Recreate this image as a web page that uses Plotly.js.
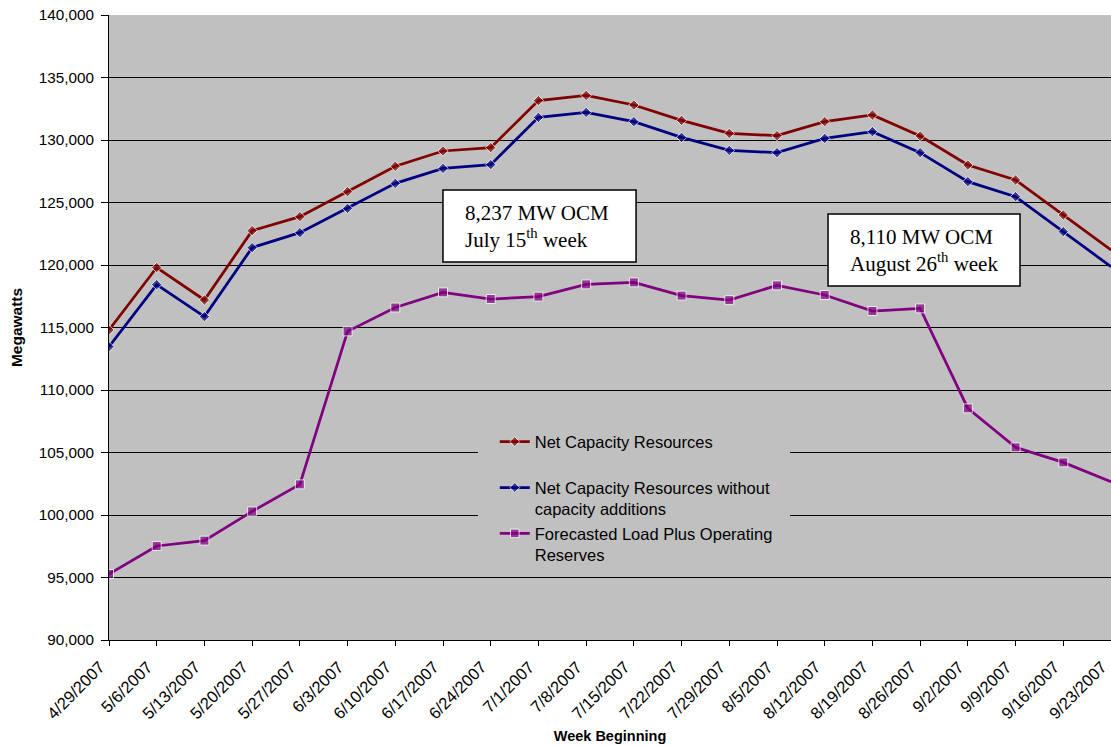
<!DOCTYPE html>
<html>
<head>
<meta charset="utf-8">
<script src="https://cdn.plot.ly/plotly-3.0.1.min.js"></script>
<style>
  html, body { margin: 0; padding: 0; background: #ffffff; }
  #chart { width: 1111px; height: 746px; }
</style>
</head>
<body>
<div id="chart"></div>
<script>
// Weekly resource adequacy outlook, summer 2007 (MW)
const weeks = [
  '4/29/2007', '5/6/2007', '5/13/2007', '5/20/2007', '5/27/2007', '6/3/2007',
  '6/10/2007', '6/17/2007', '6/24/2007', '7/1/2007', '7/8/2007', '7/15/2007',
  '7/22/2007', '7/29/2007', '8/5/2007', '8/12/2007', '8/19/2007', '8/26/2007',
  '9/2/2007', '9/9/2007', '9/16/2007', '9/23/2007'
];

const netCapacity = [
  114800, 119800, 117200, 122750, 123870, 125870,
  127900, 129120, 129390, 133150, 133570, 132800,
  131570, 130530, 130350, 131470, 132000, 130320,
  128000, 126800, 124000, 121200
];

const netCapacityNoAdditions = [
  113470, 118430, 115870, 121390, 122590, 124530,
  126530, 127730, 128030, 131810, 132210, 131470,
  130210, 129170, 128990, 130130, 130670, 128990,
  126670, 125470, 122670, 119870
];

const loadPlusReserves = [
  95280, 97520, 97950, 100290, 102450, 114690,
  116600, 117810, 117280, 117470, 118450, 118610,
  117550, 117190, 118370, 117600, 116320, 116530,
  108530, 105410, 104210, 102670
];

const seriesNames = [
  'Net Capacity Resources<br>\u00a0',
  'Net Capacity Resources without<br>capacity additions',
  'Forecasted Load Plus Operating<br>Reserves'
];

const callouts = [
  '8,237 MW OCM<br>July 15<sup>th</sup> week',
  '8,110 MW OCM<br>August 26<sup>th</sup> week'
];

const axisFont = { family: 'Liberation Sans, Arial, sans-serif', color: '#000000' };

// the final week sits on the plot's right edge, where its marker is cut away
function markerSizes(size) {
  return weeks.map((w, i) => (i === weeks.length - 1 ? 0 : size));
}

function lineTrace(name, values, color, symbol, size) {
  return {
    type: 'scatter',
    mode: 'lines+markers',
    name: name,
    x: weeks,
    y: values,
    line: { color: color, width: 2.75 },
    marker: { color: color, symbol: symbol, size: markerSizes(size) },
    cliponaxis: true,
    hoverinfo: 'x+y'
  };
}

const traces = [
  lineTrace(seriesNames[0], netCapacity, '#800000', 'diamond', 8),
  lineTrace(seriesNames[1], netCapacityNoAdditions, '#000080', 'diamond', 8),
  lineTrace(seriesNames[2], loadPlusReserves, '#800080', 'square', 9)
];

const layout = {
  width: 1111,
  height: 746,
  margin: { l: 109, r: 0, t: 15, b: 106, pad: 0 },
  paper_bgcolor: '#ffffff',
  plot_bgcolor: '#C0C0C0',
  showlegend: true,
  legend: {
    x: 0.385,
    y: 0.345,
    xanchor: 'left',
    yanchor: 'top',
    bgcolor: 'rgba(0,0,0,0)',
    borderwidth: 0,
    valign: 'top',
    font: Object.assign({}, axisFont, { size: 16.5 })
  },
  xaxis: {
    type: 'category',
    range: [0, 21],
    tickangle: -45,
    ticks: 'outside',
    ticklen: 5,
    tickcolor: '#000000',
    tickwidth: 1,
    ticklabelstandoff: 5,
    ticklabelshift: -9,
    showline: true,
    linecolor: '#000000',
    linewidth: 1,
    showgrid: false,
    zeroline: false,
    tickfont: Object.assign({}, axisFont, { size: 16.5 }),
    title: {
      text: '<b>Week Beginning</b>',
      font: Object.assign({}, axisFont, { size: 14.5 }),
      standoff: 9
    },
    automargin: false
  },
  yaxis: {
    range: [90000, 140000],
    dtick: 5000,
    tick0: 90000,
    tickformat: ',d',
    ticks: 'outside',
    ticklen: 7,
    tickcolor: '#000000',
    tickwidth: 1,
    ticklabelstandoff: 4,
    showline: true,
    linecolor: '#000000',
    linewidth: 1,
    showgrid: true,
    gridcolor: '#000000',
    gridwidth: 1,
    zeroline: false,
    tickfont: Object.assign({}, axisFont, { size: 15.3 }),
    title: {
      text: '<b>Megawatts</b>',
      font: Object.assign({}, axisFont, { size: 15.5 }),
      standoff: 12
    },
    automargin: false
  },
  shapes: [
    // gray panel behind the legend, hiding the gridlines
    {
      type: 'rect', xref: 'paper', yref: 'paper',
      x0: 0.3683, x1: 0.6796, y0: 0.1184, y1: 0.352,
      fillcolor: '#C0C0C0', line: { width: 0 }, layer: 'above'
    },
    // callout boxes
    {
      type: 'rect', xref: 'paper', yref: 'paper',
      x0: 0.3333, x1: 0.526, y0: 0.6048, y1: 0.72,
      fillcolor: '#ffffff', line: { color: '#000000', width: 1.5 }, layer: 'above'
    },
    {
      type: 'rect', xref: 'paper', yref: 'paper',
      x0: 0.7176, x1: 0.9092, y0: 0.5664, y1: 0.6816,
      fillcolor: '#ffffff', line: { color: '#000000', width: 1.5 }, layer: 'above'
    }
  ],
  annotations: [
    {
      xref: 'paper', yref: 'paper', x: 0.3533, y: 0.6624,
      xanchor: 'left', yanchor: 'middle', align: 'left', showarrow: false,
      text: callouts[0],
      font: { family: 'Liberation Serif, Times New Roman, serif', size: 21, color: '#000000' }
    },
    {
      xref: 'paper', yref: 'paper', x: 0.7375, y: 0.624,
      xanchor: 'left', yanchor: 'middle', align: 'left', showarrow: false,
      text: callouts[1],
      font: { family: 'Liberation Serif, Times New Roman, serif', size: 21, color: '#000000' }
    }
  ]
};

Plotly.newPlot('chart', traces, layout, { displayModeBar: false, staticPlot: true });
</script>
</body>
</html>
